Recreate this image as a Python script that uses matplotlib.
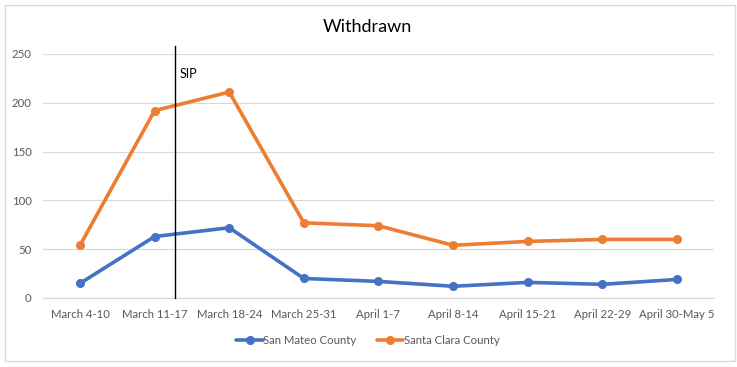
import matplotlib
matplotlib.use("Agg")
import matplotlib.pyplot as plt
from matplotlib.patches import Rectangle

categories = ["March 4-10", "March 11-17", "March 18-24", "March 25-31", "April 1-7",
              "April 8-14", "April 15-21", "April 22-29", "April 30-May 5"]
san_mateo = [15, 63, 72, 20, 17, 12, 16, 14, 19]
santa_clara = [54, 192, 211, 77, 74, 54, 58, 60, 60]
yticks = [0, 50, 100, 150, 200, 250]
sip_pos = 1.27  # category-index position of the SIP marker
title = "Withdrawn"

plt.rcParams['font.family'] = ['Lato', 'DejaVu Sans']

W, H = 737, 367
fig = plt.figure(figsize=(W / 100, H / 100), dpi=100)
ax = fig.add_axes([42.7 / W, (H - 298) / H, (714.3 - 42.7) / W, (298 - 54) / H])

x = list(range(len(categories)))
blue = "#4472C4"
orange = "#ED7D31"
ax.plot(x, san_mateo, color=blue, lw=2.6, marker="o", ms=5.5, label="San Mateo County",
        solid_capstyle="round", zorder=3)
ax.plot(x, santa_clara, color=orange, lw=2.6, marker="o", ms=5.5, label="Santa Clara County",
        solid_capstyle="round", zorder=3)

ax.set_xlim(-0.5, len(categories) - 0.5)
ax.set_ylim(0, 250)
ax.set_yticks(yticks)
ax.set_xticks(x)
ax.set_xticklabels(categories)
ax.grid(axis="y", color="#D9D9D9", lw=0.9)
ax.set_axisbelow(True)
for s in ["top", "right", "left"]:
    ax.spines[s].set_visible(False)
ax.spines["bottom"].set_color("#D9D9D9")
ax.tick_params(axis="both", length=0, labelsize=8.2, colors="#595959", pad=8)
ax.tick_params(axis="y", pad=8)

# SIP vertical line
ax.plot([sip_pos, sip_pos], [0, 258], color="black", lw=1, clip_on=False, zorder=4)
ax.text(sip_pos + 0.06, 229, "SIP", fontsize=9, color="black", va="center", ha="left")

fig.text(367 / W, 1 - 27 / H, title, ha="center", va="center", fontsize=13, color="#000000")

leg = fig.legend(loc="center", bbox_to_anchor=(368 / W, 1 - 340 / H), ncol=2, frameon=False,
                 fontsize=8.2, handlelength=2.3, columnspacing=1.8, handletextpad=0.05)
for t in leg.get_texts():
    t.set_color("#595959")

fig.patches.append(Rectangle((5 / W, 1 - 361 / H), 730 / W, 356 / H, transform=fig.transFigure,
                             fill=False, edgecolor="#D9D9D9", lw=1))

fig.savefig("out.png", dpi=100, facecolor="white")
